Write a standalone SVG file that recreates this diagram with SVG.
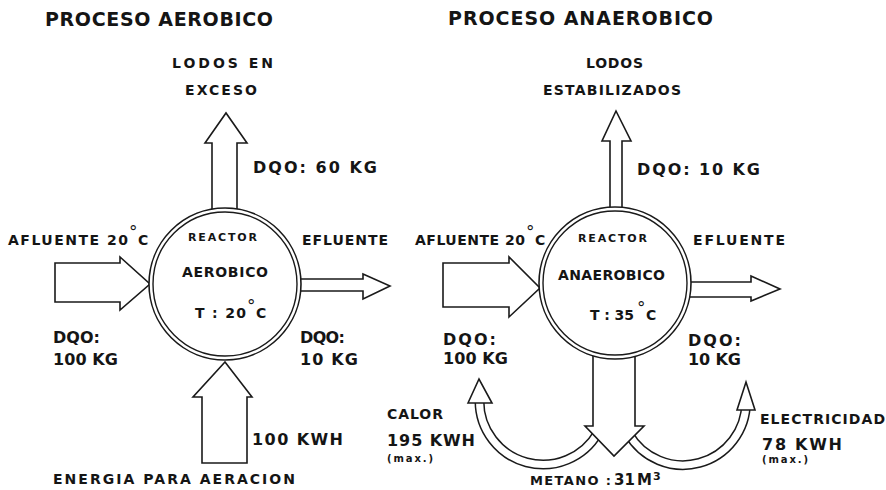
<svg xmlns="http://www.w3.org/2000/svg" width="886" height="490" viewBox="0 0 886 490">
<style>
text{font-family:"DejaVu Sans","Liberation Sans",Arial,sans-serif;font-weight:bold;fill:#151515}
.ttl{font-size:19px}
.s13{font-size:14px}
.s10{font-size:11px}
.s14{font-size:14px}
.s16{font-size:16px}
.s9{font-size:10px}
.deg{font-size:17px;font-weight:normal}
.arrow{fill:#fff;stroke:#1a1a1a;stroke-width:1.6;stroke-linejoin:miter}
.bandO{fill:none;stroke:#1a1a1a;stroke-width:10}
.bandI{fill:none;stroke:#fff;stroke-width:7}
.ring{fill:#fff;stroke:#1a1a1a;stroke-width:1.6}
.ringIn{fill:none;stroke:#1a1a1a;stroke-width:1.4}
</style>
<rect width="886" height="490" fill="#fff"/>

<g id="connectors">
  <!-- aerobic -->
  <polygon class="arrow" points="212,220 212,143 205,143 226,113 247,143 237,143 237,220"/>
  <polygon class="arrow" points="55,263 120,263 120,257 150,284 120,310 120,302 55,302"/>
  <polygon class="arrow" points="285,279 363,279 363,274 390,286 363,299 363,291 285,291"/>
  <polygon class="arrow" points="202,463 202,397 193,397 225,362 252,397 247,397 247,463"/>
  <!-- anaerobic -->
  <polygon class="arrow" points="610,220 610,141 602,141 616,111 631,141 622,141 622,220"/>
  <polygon class="arrow" points="443,263 509,263 509,257 540,288 509,317 509,307 443,307"/>
  <polygon class="arrow" points="680,282 751,282 751,276 780,289 751,301 751,297 680,297"/>
  <!-- curved bands -->
  <path class="bandO" d="M479.5,401 A63.5,63.5 0 0 0 598,432.75"/>
  <path class="bandI" d="M479.5,401 A63.5,63.5 0 0 0 598,432.75"/>
  <path class="bandO" d="M746,402 A63,63 0 0 1 628.4,433.5"/>
  <path class="bandI" d="M746,402 A63,63 0 0 1 628.4,433.5"/>
  <polygon class="arrow" points="468,403 479,379 492,403"/>
  <polygon class="arrow" points="737,410 746,382 755,410"/>
  <polygon class="arrow" points="593,330 593,426 585,426 614,456 644,426 635,426 635,330"/>
</g>

<g id="reactor-aerobico">
  <circle class="ring" cx="225" cy="284" r="76"/>
  <circle class="ringIn" cx="225" cy="284" r="72"/>
  <text class="s10" x="188" y="241" textLength="69" lengthAdjust="spacing">REACTOR</text>
  <text class="s14" x="182" y="277" textLength="86" lengthAdjust="spacing">AEROBICO</text>
  <text class="s14" y="318"><tspan x="195" textLength="51" lengthAdjust="spacing">T : 20</tspan><tspan class="deg" x="247" y="312">°</tspan><tspan x="256" y="318">C</tspan></text>
</g>

<g id="reactor-anaerobico">
  <circle class="ring" cx="615" cy="283" r="76"/>
  <circle class="ringIn" cx="615" cy="283" r="72"/>
  <text class="s10" x="578" y="242" textLength="69" lengthAdjust="spacing">REACTOR</text>
  <text class="s14" x="558" y="280" textLength="107" lengthAdjust="spacing">ANAEROBICO</text>
  <text class="s14" y="320"><tspan x="590" textLength="44" lengthAdjust="spacing">T : 35</tspan><tspan class="deg" x="637" y="314">°</tspan><tspan x="646" y="320">C</tspan></text>
</g>

<g id="labels">
  <text class="ttl" x="45" y="26" textLength="228" lengthAdjust="spacing">PROCESO AEROBICO</text>
  <text class="ttl" x="448" y="25" textLength="265" lengthAdjust="spacing">PROCESO ANAEROBICO</text>

  <text class="s13" x="172" y="68" textLength="101" lengthAdjust="spacing">LODOS EN</text>
  <text class="s13" x="185" y="95" textLength="72" lengthAdjust="spacing">EXCESO</text>
  <text class="s13" x="586" y="68" textLength="57" lengthAdjust="spacing">LODOS</text>
  <text class="s13" x="543" y="95" textLength="138" lengthAdjust="spacing">ESTABILIZADOS</text>

  <text class="s16" x="253" y="173" textLength="124" lengthAdjust="spacing">DQO: 60 KG</text>
  <text class="s16" x="637" y="175" textLength="123" lengthAdjust="spacing">DQO: 10 KG</text>

  <text class="s13" y="245"><tspan x="8" textLength="120" lengthAdjust="spacing">AFLUENTE 20</tspan><tspan class="deg" x="129" y="238">°</tspan><tspan x="138" y="245">C</tspan></text>
  <text class="s13" x="302" y="245" textLength="86" lengthAdjust="spacing">EFLUENTE</text>
  <text class="s13" y="245"><tspan x="415" textLength="110" lengthAdjust="spacing">AFLUENTE 20</tspan><tspan class="deg" x="526" y="238">°</tspan><tspan x="535" y="245">C</tspan></text>
  <text class="s13" x="693" y="245" textLength="92" lengthAdjust="spacing">EFLUENTE</text>

  <text class="s16" x="53" y="343" textLength="47" lengthAdjust="spacing">DQO:</text>
  <text class="s16" x="53" y="365" textLength="65" lengthAdjust="spacing">100 KG</text>
  <text class="s16" x="300" y="343" textLength="45" lengthAdjust="spacing">DQO:</text>
  <text class="s16" x="300" y="365" textLength="58" lengthAdjust="spacing">10 KG</text>
  <text class="s16" x="443" y="345" textLength="53" lengthAdjust="spacing">DQO:</text>
  <text class="s16" x="443" y="364" textLength="65" lengthAdjust="spacing">100 KG</text>
  <text class="s16" x="688" y="346" textLength="53" lengthAdjust="spacing">DQO:</text>
  <text class="s16" x="688" y="365" textLength="53" lengthAdjust="spacing">10 KG</text>

  <text class="s16" x="252" y="445" textLength="91" lengthAdjust="spacing">100 KWH</text>
  <text class="s13" x="53" y="484" textLength="242" lengthAdjust="spacing">ENERGIA PARA AERACION</text>

  <text class="s13" x="387" y="419" textLength="56" lengthAdjust="spacing">CALOR</text>
  <text class="s16" x="387" y="446" textLength="88" lengthAdjust="spacing">195 KWH</text>
  <text class="s9" x="387" y="462" textLength="46" lengthAdjust="spacing">(max.)</text>

  <text class="s13" x="760" y="424" textLength="125" lengthAdjust="spacing">ELECTRICIDAD</text>
  <text class="s16" x="762" y="450" textLength="80" lengthAdjust="spacing">78 KWH</text>
  <text class="s9" x="762" y="463" textLength="46" lengthAdjust="spacing">(max.)</text>

  <text y="485"><tspan class="s13" style="font-size:13px" x="530" textLength="81" lengthAdjust="spacing">METANO :</tspan><tspan style="font-size:15px" x="614">31</tspan><tspan style="font-size:15px" x="637">M</tspan><tspan x="653" y="480" style="font-size:11px">3</tspan></text>
</g>
</svg>
